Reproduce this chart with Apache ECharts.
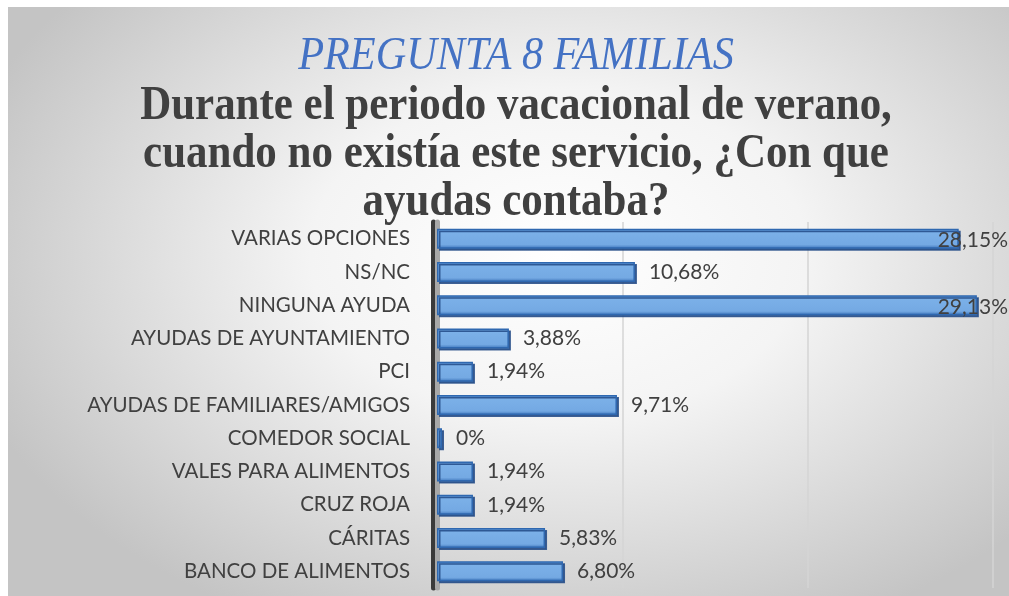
<!DOCTYPE html>
<html>
<head>
<meta charset="utf-8">
<script src="https://cdn.jsdelivr.net/npm/echarts@6/dist/echarts.min.js"></script>
<style>
  html, body { margin: 0; padding: 0; background: #ffffff; }
  #main {
    position: absolute; left: 8px; top: 7px; width: 1001px; height: 589px;
    background: radial-gradient(ellipse 62% 70% at 55% 42%, #ffffff 0%, #f4f4f4 40%, #d4d4d4 80%, #c4c4c4 100%);
  }
</style>
</head>
<body>
<div id="main"></div>
<script>
// datos de la pregunta 8 (de arriba a abajo)
var categorias = [
  'VARIAS OPCIONES',
  'NS/NC',
  'NINGUNA AYUDA',
  'AYUDAS DE AYUNTAMIENTO',
  'PCI',
  'AYUDAS DE FAMILIARES/AMIGOS',
  'COMEDOR SOCIAL',
  'VALES PARA ALIMENTOS',
  'CRUZ ROJA',
  'CÁRITAS',
  'BANCO DE ALIMENTOS'
];
var porcentajes = [28.15, 10.68, 29.13, 3.88, 1.94, 9.71, 0, 1.94, 1.94, 5.83, 6.80];

var titulo = 'PREGUNTA 8 FAMILIAS';
var subtitulo = [
  'Durante el periodo vacacional de verano,',
  'cuando no existía este servicio, ¿Con que',
  'ayudas contaba?'
];

var myChart = echarts.init(document.getElementById('main'));

function formatoPct(v) {
  if (v === 0) return '0%';
  return v.toFixed(2).replace('.', ',') + '%';
}

var textos = [{
  type: 'text',
  x: 508, y: 50,
  scaleX: 0.92,
  style: {
    text: titulo,
    fill: '#4472c4',
    font: 'italic 46px "Liberation Serif"',
    textAlign: 'center',
    textVerticalAlign: 'middle'
  }
}];
subtitulo.forEach(function (linea, i) {
  textos.push({
    type: 'text',
    x: 508, y: 100 + i * 48,
    scaleX: 0.895,
    style: {
      text: linea,
      fill: '#404040',
      font: 'bold 48px "Liberation Serif"',
      textAlign: 'center',
      textVerticalAlign: 'middle'
    }
  });
});

var option = {
  backgroundColor: 'transparent',
  animation: false,
  graphic: textos,
  grid: {
    left: 429,
    right: 16,
    top: 215,
    bottom: 8
  },
  xAxis: {
    type: 'value',
    min: 0,
    max: 30,
    interval: 10,
    axisLabel: { show: false },
    axisLine: { show: false },
    axisTick: { show: false },
    splitLine: { lineStyle: { color: '#d4d4d4', width: 1.5 } }
  },
  yAxis: {
    type: 'category',
    inverse: true,
    data: categorias,
    axisTick: { show: false },
    axisLine: {
      lineStyle: {
        color: '#a8a8a8', width: 5,
        shadowColor: '#3a3a3a', shadowOffsetX: -4, shadowBlur: 0
      }
    },
    axisLabel: {
      margin: 27,
      color: '#404040',
      fontFamily: 'Lato',
      fontSize: 20.5
    }
  },
  series: [{
    type: 'bar',
    data: porcentajes,
    barWidth: 20,
    barMinHeight: 5,
    itemStyle: {
      color: new echarts.graphic.LinearGradient(0, 0, 0, 1, [
        { offset: 0, color: '#4f88cc' },
        { offset: 0.18, color: '#7bb0e8' },
        { offset: 0.8, color: '#74a9e3' },
        { offset: 1, color: '#3d74ba' }
      ]),
      borderColor: '#2f68b0',
      borderWidth: 1.5,
      shadowColor: 'rgba(35,75,135,0.85)',
      shadowOffsetX: 2,
      shadowOffsetY: 2,
      shadowBlur: 0
    },
    label: {
      show: true,
      position: 'right',
      distance: 14,
      color: '#404040',
      fontFamily: 'Lato',
      fontSize: 21,
      formatter: function (p) { return formatoPct(p.value); }
    },
    labelLayout: function (p) {
      var exceso = p.labelRect.x + p.labelRect.width - (myChart.getWidth() - 1);
      if (exceso > 0) return { dx: -exceso, dy: 2 };
      return {};
    }
  }]
};

myChart.setOption(option);
</script>
</body>
</html>
